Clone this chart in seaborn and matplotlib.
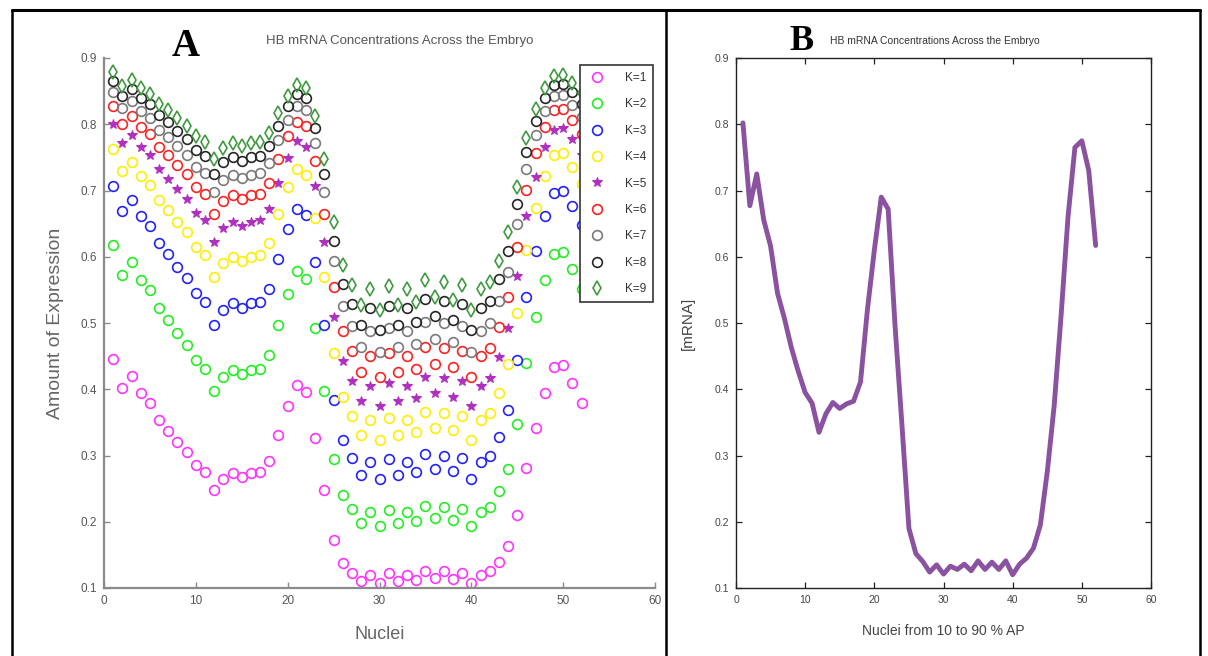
import matplotlib
matplotlib.use("Agg")
import matplotlib.pyplot as plt
from matplotlib.lines import Line2D
import seaborn as sns
import pandas as pd

# ---------------- data ----------------
nuclei = list(range(1, 53))

k1 = [.446, .402, .420, .394, .379, .353, .337, .320, .305, .285, .275, .248, .265, .273, .268, .273, .275, .291,
      .331, .374, .406, .396, .326, .248, .172, .137, .123, .110, .120, .107, .122, .110, .120, .112, .126, .115,
      .125, .113, .123, .107, .120, .125, .140, .163, .210, .281, .341, .394, .433, .436, .410, .380]
k2 = [.617, .573, .592, .565, .550, .522, .504, .485, .467, .444, .431, .397, .419, .429, .423, .429, .431, .451,
      .497, .544, .578, .567, .492, .397, .294, .241, .219, .198, .214, .193, .217, .198, .214, .201, .224, .206,
      .222, .203, .219, .193, .214, .222, .246, .280, .347, .439, .509, .565, .604, .607, .582, .551]
k3 = [.707, .669, .685, .661, .647, .621, .604, .585, .568, .545, .532, .497, .520, .530, .523, .530, .532, .552,
      .597, .642, .672, .663, .592, .497, .384, .323, .296, .270, .290, .264, .294, .270, .290, .275, .302, .280,
      .300, .277, .296, .264, .290, .300, .328, .369, .444, .540, .608, .661, .696, .699, .676, .648]
k4 = [.763, .729, .743, .722, .709, .686, .670, .653, .637, .615, .603, .569, .591, .600, .594, .600, .603, .621,
      .664, .705, .732, .724, .659, .569, .454, .388, .359, .331, .353, .324, .357, .331, .353, .335, .366, .342,
      .364, .338, .359, .324, .353, .364, .394, .438, .515, .610, .674, .722, .753, .756, .735, .710]
k5 = [.801, .771, .784, .765, .753, .732, .718, .702, .687, .666, .655, .622, .643, .652, .647, .652, .655, .672,
      .712, .749, .774, .766, .707, .622, .509, .443, .412, .382, .405, .375, .410, .382, .405, .387, .419, .394,
      .417, .389, .412, .375, .405, .417, .449, .493, .571, .661, .721, .765, .792, .794, .777, .754]
k6 = [.828, .801, .813, .796, .785, .766, .753, .738, .725, .705, .695, .664, .684, .693, .687, .693, .695, .711,
      .748, .782, .804, .797, .744, .664, .555, .488, .457, .426, .450, .418, .455, .426, .450, .431, .464, .438,
      .462, .433, .457, .418, .450, .462, .494, .539, .615, .701, .756, .796, .821, .823, .807, .786]
k7 = [.849, .825, .835, .820, .810, .792, .781, .767, .754, .736, .726, .698, .716, .724, .719, .724, .726, .742,
      .776, .807, .827, .821, .772, .698, .593, .526, .495, .464, .488, .456, .493, .464, .488, .469, .502, .476,
      .500, .471, .495, .456, .488, .500, .533, .577, .650, .732, .784, .820, .842, .844, .829, .811]
k8 = [.866, .843, .853, .839, .830, .814, .803, .790, .778, .761, .752, .725, .743, .750, .745, .750, .752, .767,
      .798, .827, .845, .840, .795, .725, .624, .559, .529, .497, .522, .489, .526, .497, .522, .502, .536, .510,
      .533, .505, .529, .489, .522, .533, .566, .609, .680, .758, .805, .839, .859, .861, .848, .831]
k9 = [.879, .858, .867, .854, .846, .831, .821, .809, .798, .782, .773, .748, .764, .772, .767, .772, .773, .787,
      .817, .843, .860, .855, .813, .748, .652, .588, .558, .527, .551, .519, .556, .527, .551, .532, .565, .539,
      .5625, .534, .558, .519, .551, .5625, .594, .637, .705, .779, .823, .854, .873, .874, .862, .847]

mrna = [.802, .677, .725, .656, .616, .545, .507, .463, .427, .395, .379, .335, .363, .380, .371, .378, .382, .411,
        .520, .610, .690, .672, .495, .345, .190, .152, .140, .124, .135, .121, .133, .128, .136, .126, .141, .128,
        .139, .128, .141, .120, .136, .145, .160, .195, .275, .375, .511, .660, .765, .775, .730, .617]

series_labels = ["K=1", "K=2", "K=3", "K=4", "K=5", "K=6", "K=7", "K=8", "K=9"]
series_values = [k1, k2, k3, k4, k5, k6, k7, k8, k9]

x_ticks = [0, 10, 20, 30, 40, 50, 60]
y_ticks = [0.1, 0.2, 0.3, 0.4, 0.5, 0.6, 0.7, 0.8, 0.9]

# ---------------- style ----------------
sns.set_style("white")
plt.rcParams["font.family"] = ["Liberation Sans", "DejaVu Sans"]

colors = ["#ff33ff", "#22ee22", "#2222ff", "#ffee00", "#b030c0", "#ff2020", "#7a7a7a", "#262626", "#3f9a3f"]
markers = ["o", "o", "o", "o", "*", "o", "o", "o", "d"]

fig = plt.figure(figsize=(12.08, 6.56), dpi=100)
axA = fig.add_axes([104 / 1208, 1 - 588 / 656, 551 / 1208, 530 / 656])
axB = fig.add_axes([736 / 1208, 1 - 588 / 656, 415 / 1208, 530 / 656])

# ---------------- panel A ----------------
for lab, vals, c, m in zip(series_labels, series_values, colors, markers):
    df = pd.DataFrame({"Nuclei": nuclei, "Expr": vals})
    if m == "*":
        sns.lineplot(data=df, x="Nuclei", y="Expr", ax=axA, linestyle="", marker=m,
                     markersize=7.5, color=c, markeredgecolor=c, markerfacecolor=c, label=lab)
    else:
        sns.lineplot(data=df, x="Nuclei", y="Expr", ax=axA, linestyle="", marker=m,
                     markersize=7 if m == "o" else 7.5, color=c, markeredgecolor=c,
                     markerfacecolor="none", markeredgewidth=1.2, label=lab)

axA.set_xlim(0, 60)
axA.set_ylim(0.1, 0.9)
axA.set_xticks(x_ticks)
axA.set_yticks(y_ticks)
axA.set_xticklabels([str(t) for t in x_ticks])
axA.set_yticklabels(["%.1f" % t for t in y_ticks])
for s in ["top", "right"]:
    axA.spines[s].set_visible(False)
for s in ["left", "bottom"]:
    axA.spines[s].set_color("#8a8a8a")
    axA.spines[s].set_linewidth(1.6)
axA.tick_params(direction="in", length=4, width=1, colors="#8a8a8a", labelcolor="#555555",
                labelsize=8.5, left=True, bottom=True, pad=5)
axA.set_xlabel("Nuclei", fontsize=13, color="#666666", labelpad=14)
axA.set_ylabel("Amount of Expression", fontsize=14, color="#666666", labelpad=12)
axA.set_title("HB mRNA Concentrations Across the Embryo", fontsize=9.5, color="#555555",
              x=0.537, y=1.0, pad=10)

leg = axA.legend(loc="upper right", bbox_to_anchor=(0.997, 0.987), fontsize=8.5, frameon=True,
                 fancybox=False, edgecolor="#333333", framealpha=1, labelspacing=1.22,
                 handlelength=1.6, handletextpad=1.6, borderpad=0.6, borderaxespad=0)
leg.get_frame().set_linewidth(1.2)
for t in leg.get_texts():
    t.set_color("#333333")

# ---------------- panel B ----------------
dfB = pd.DataFrame({"Nuclei": nuclei, "mRNA": mrna})
sns.lineplot(data=dfB, x="Nuclei", y="mRNA", ax=axB, color="#8a52a0", linewidth=3.5)
axB.set_xlim(0, 60)
axB.set_ylim(0.1, 0.9)
axB.set_xticks(x_ticks)
axB.set_yticks(y_ticks)
axB.set_xticklabels([str(t) for t in x_ticks])
axB.set_yticklabels(["%.1f" % t for t in y_ticks])
for s in ["top", "right", "left", "bottom"]:
    axB.spines[s].set_visible(True)
    axB.spines[s].set_color("#222222")
    axB.spines[s].set_linewidth(1.0)
axB.tick_params(direction="in", length=4, width=0.9, colors="#222222", labelcolor="#444444",
                labelsize=7.5, top=True, right=True, left=True, bottom=True, pad=5)
axB.set_xlabel("Nuclei from 10 to 90 % AP", fontsize=10, color="#444444", labelpad=14)
axB.set_ylabel("[mRNA]", fontsize=11, color="#444444", labelpad=14)
axB.set_title("HB mRNA Concentrations Across the Embryo", fontsize=7.5, color="#333333",
              x=0.48, y=1.0, pad=10)

# ---------------- panel letters ----------------
fig.text(186 / 1208, 1 - 47 / 656, "A", fontsize=28, fontweight="bold",
         family=["Liberation Serif", "DejaVu Serif"], ha="center", va="center", color="black")
fig.text(802 / 1208, 1 - 42 / 656, "B", fontsize=26, fontweight="bold",
         family=["Liberation Serif", "DejaVu Serif"], ha="center", va="center", color="black")

# ---------------- outer frame ----------------
W, H = 1208, 656
def fline(x0, y0, x1, y1, lw=1.8):
    fig.add_artist(Line2D([x0 / W, x1 / W], [1 - y0 / H, 1 - y1 / H], transform=fig.transFigure,
                          color="black", linewidth=lw))

fline(12, 10, 1200, 10, 2.2)
fline(12, 10, 12, 656)
fline(666, 10, 666, 656)
fline(1200, 10, 1200, 656)

fig.savefig("out.png", dpi=100, facecolor="white")
